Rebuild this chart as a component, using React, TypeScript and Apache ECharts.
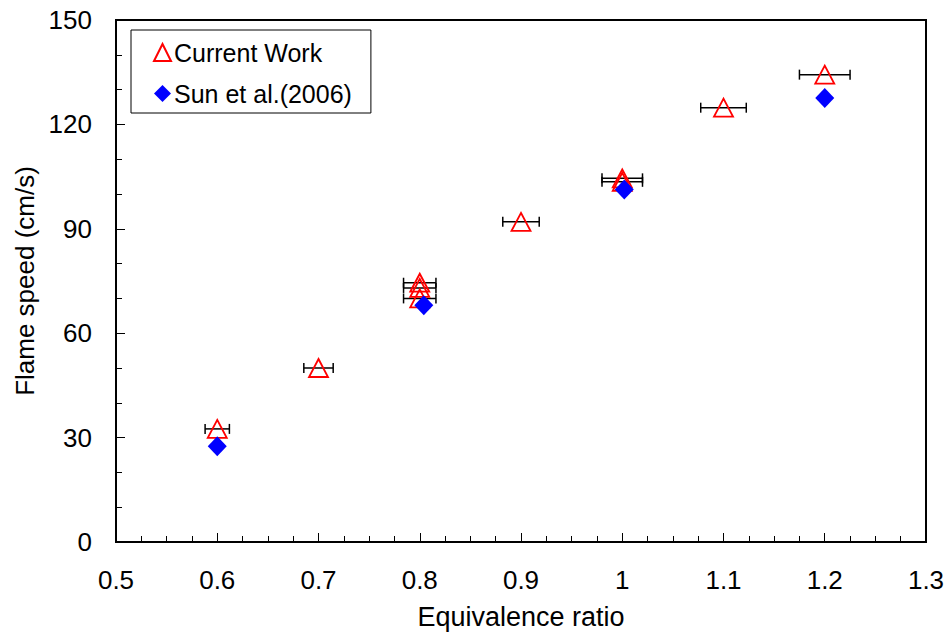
import React, { useEffect, useRef } from "react";
import * as echarts from "echarts";

// Current work: equivalence ratio, flame speed, horizontal uncertainty in phi
const currentPhi = [0.6, 0.7, 0.8, 0.8, 0.8, 0.9, 1.0, 1.0, 1.1, 1.2];
const currentSpeed = [32.5, 50, 74.5, 73, 70, 92, 104.5, 103.5, 124.8, 134.3];
const currentErr = [0.012, 0.0145, 0.016, 0.016, 0.016, 0.018, 0.02, 0.02, 0.0225, 0.025];

// Sun et al. (2006)
const sunPhi = [0.6, 0.804, 1.002, 1.2];
const sunSpeed = [27.5, 68, 101.3, 127.6];

const xTicks = [0.5, 0.6, 0.7, 0.8, 0.9, 1.0, 1.1, 1.2, 1.3];

const FONT = "Liberation Sans, Arial, sans-serif";

export default function App() {
  const ref = useRef<HTMLDivElement>(null);

  useEffect(() => {
    if (!ref.current) return;
    const chart = echarts.init(ref.current, null, { renderer: "svg" });

    const currentData = currentPhi.map((p, i) => [p, currentSpeed[i]]);
    const errData = currentPhi.map((p, i) => [p - currentErr[i], p + currentErr[i], currentSpeed[i]]);
    const sunData = sunPhi.map((p, i) => [p, sunSpeed[i]]);

    chart.setOption({
      animation: false,
      backgroundColor: "#ffffff",
      grid: {
        left: 116,
        top: 20,
        right: 25,
        bottom: 91,
        show: true,
        borderColor: "#000",
        borderWidth: 2,
      },
      legend: {
        orient: "vertical",
        left: 131,
        top: 30,
        padding: [10, 19, 7, 22],
        itemGap: 16,
        itemWidth: 17,
        itemHeight: 17,
        borderColor: "#000",
        borderWidth: 1,
        backgroundColor: "#fff",
        textStyle: { fontFamily: FONT, fontSize: 25, color: "#000", padding: [0, 0, 0, -2] },
        data: ["Current Work", "Sun et al.(2006)"],
      },
      xAxis: {
        type: "value",
        min: 0.5,
        max: 1.3,
        interval: 0.1,
        name: "Equivalence ratio",
        nameLocation: "middle",
        nameGap: 61,
        nameTextStyle: { fontFamily: FONT, fontSize: 27, color: "#000" },
        axisLine: { show: true, lineStyle: { color: "#000", width: 2 } },
        axisTick: { show: true, inside: true, length: 9, lineStyle: { color: "#000", width: 1 } },
        minorTick: { show: true, splitNumber: 4, length: 6, lineStyle: { color: "#000", width: 1 } },
        splitLine: { show: false },
        axisLabel: {
          fontFamily: FONT,
          fontSize: 26,
          color: "#000",
          margin: 25,
          formatter: (v: number) => {
            const t = xTicks.find((x) => Math.abs(x - v) < 1e-6);
            return t === undefined ? "" : String(t);
          },
        },
      },
      yAxis: {
        type: "value",
        min: 0,
        max: 150,
        interval: 30,
        name: "Flame speed (cm/s)",
        nameLocation: "middle",
        nameGap: 76,
        nameTextStyle: { fontFamily: FONT, fontSize: 26, color: "#000" },
        axisLine: { show: true, lineStyle: { color: "#000", width: 2 } },
        axisTick: { show: true, inside: true, length: 9, lineStyle: { color: "#000", width: 1 } },
        minorTick: { show: true, splitNumber: 3, length: 6, lineStyle: { color: "#000", width: 1 } },
        splitLine: { show: false },
        axisLabel: { fontFamily: FONT, fontSize: 26, color: "#000", margin: 24 },
      },
      series: [
        {
          name: "errorbars",
          type: "custom",
          silent: true,
          z: 1,
          data: errData,
          encode: { x: [0, 1], y: 2 },
          renderItem: (params: any, api: any) => {
            const lo = api.coord([api.value(0), api.value(2)]);
            const hi = api.coord([api.value(1), api.value(2)]);
            const cap = 5;
            const style = { stroke: "#000", lineWidth: 1.5 };
            return {
              type: "group",
              children: [
                { type: "line", shape: { x1: lo[0], y1: lo[1], x2: hi[0], y2: hi[1] }, style },
                { type: "line", shape: { x1: lo[0], y1: lo[1] - cap, x2: lo[0], y2: lo[1] + cap }, style },
                { type: "line", shape: { x1: hi[0], y1: hi[1] - cap, x2: hi[0], y2: hi[1] + cap }, style },
              ],
            };
          },
        },
        {
          name: "Current Work",
          type: "scatter",
          z: 3,
          data: currentData,
          symbol: "triangle",
          symbolSize: [19, 18],
          itemStyle: { color: "rgba(255,255,255,0)", borderColor: "#ff0000", borderWidth: 1.8, opacity: 1 },
        },
        {
          name: "Sun et al.(2006)",
          type: "scatter",
          z: 4,
          data: sunData,
          symbol: "diamond",
          symbolSize: [19, 20],
          itemStyle: { color: "#0000ff", opacity: 1 },
        },
      ],
    });

    return () => chart.dispose();
  }, []);

  return (
    <div
      ref={ref}
      style={{ position: "fixed", left: 0, top: 0, width: 951, height: 635 }}
    />
  );
}
